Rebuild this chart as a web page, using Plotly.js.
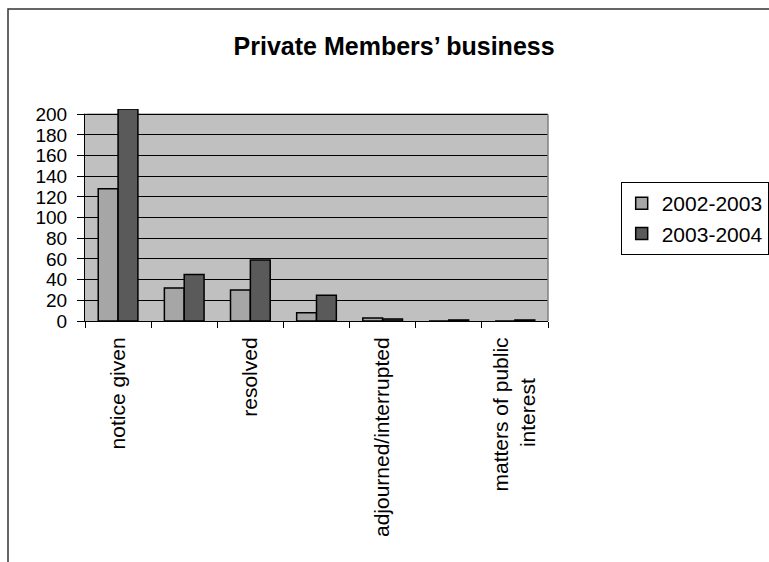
<!DOCTYPE html>
<html>
<head>
<meta charset="utf-8">
<script src="https://cdn.plot.ly/plotly-3.0.1.min.js"></script>
<style>html,body{margin:0;padding:0;background:#fff;}#chart{width:769px;height:562px;}</style>
</head>
<body>
<div id="chart"></div>
<script>
// Category slots (only every other label is shown, as in the reference)
const categoryPositions = [1, 2, 3, 4, 5, 6, 7];
const labelPositions = [1, 3, 5, 7];
const labelTexts = ["notice given", "resolved", "adjourned/interrupted", "matters of public<br>interest"];
const seriesNames = ["2002-2003", "2003-2004"];
const values2002 = [128, 32, 30, 8, 3, 0, 0];
const values2003 = [205, 45, 59, 25, 2, 1, 1];
const yTickValues = [0, 20, 40, 60, 80, 100, 120, 140, 160, 180, 200];
const boundaryTicks = [0.5, 1.5, 2.5, 3.5, 4.5, 5.5, 6.5, 7.5];

const font = "Liberation Sans, Arial, sans-serif";
const xLabelSize = 21;

// centre multi-line rotated labels by padding shorter lines with no-break spaces
function centreLines(label) {
  const lines = label.split("<br>");
  if (lines.length < 2) return label;
  const ctx = document.createElement("canvas").getContext("2d");
  ctx.font = xLabelSize + "px " + font;
  const widths = lines.map(l => ctx.measureText(l).width);
  const maxW = Math.max(...widths);
  const sp = ctx.measureText("\u00A0").width || xLabelSize * 0.278;
  return lines.map((l, i) => l + "\u00A0".repeat(Math.round((maxW - widths[i]) / 2 / sp))).join("<br>");
}
const tickTexts = labelTexts.map(centreLines);

const traces = [
  {
    type: "bar", x: categoryPositions, y: values2002, name: seriesNames[0],
    marker: {color: "#A6A6A6", line: {color: "#000", width: 1.5}},
    cliponaxis: false, legendgroup: "a", hoverinfo: "none"
  },
  {
    type: "bar", x: categoryPositions, y: values2003, name: seriesNames[1],
    marker: {color: "#5A5A5A", line: {color: "#000", width: 1.5}},
    cliponaxis: false, legendgroup: "b", hoverinfo: "none"
  }
];

const layout = {
  width: 769, height: 562,
  margin: {l: 85, r: 221, t: 109, b: 241, autoexpand: false},
  paper_bgcolor: "#fff",
  plot_bgcolor: "#C0C0C0",
  font: {family: font, size: 19, color: "#000"},
  title: {
    text: "<b>Private Members’ business</b>",
    font: {family: font, size: 25, color: "#000"},
    x: 0.5125, xanchor: "center", xref: "container",
    y: 0.918, yanchor: "middle", yref: "container"
  },
  barmode: "group", bargap: 0.4, bargroupgap: 0,
  showlegend: true,
  legend: {
    x: 1.157, xanchor: "left", y: 0.655, yanchor: "top",
    bordercolor: "#000", borderwidth: 1, bgcolor: "#fff",
    font: {family: font, size: 21, color: "#000"},
    traceorder: "grouped", tracegroupgap: 0, itemwidth: 30
  },
  xaxis: {
    range: [0.5, 7.5], tickmode: "array", tickvals: labelPositions, ticktext: tickTexts,
    tickangle: -90, ticks: "", showgrid: false, zeroline: false,
    showline: true, linecolor: "#000", linewidth: 1,
    ticklabelstandoff: 7,
    tickfont: {family: font, size: xLabelSize, color: "#000"},
    minor: {tickmode: "array", tickvals: boundaryTicks, ticks: "outside", ticklen: 6, tickcolor: "#000", tickwidth: 1, showgrid: false}
  },
  yaxis: {
    range: [0, 205], tickmode: "array", tickvals: yTickValues, ticks: "outside", ticklen: 7, tickcolor: "#000",
    showgrid: true, gridcolor: "#000", gridwidth: 1, zeroline: false,
    showline: true, linecolor: "#000", linewidth: 1,
    ticklabelstandoff: 6,
    tickfont: {family: font, size: 19, color: "#000"}
  },
  shapes: [
    // blank strip above the 200 line (plot area ends at 200 in the reference)
    {type: "rect", xref: "paper", yref: "y", x0: 0, x1: 1.01, y0: 200, y1: 206, line: {width: 0}, fillcolor: "#fff", layer: "between"},
    {type: "line", xref: "paper", yref: "y", x0: 0, x1: 0, y0: 200.5, y1: 206, line: {color: "#fff", width: 3}, layer: "above"},
    // plot area border (top, right)
    {type: "line", xref: "paper", yref: "y", x0: 0, x1: 1, y0: 200, y1: 200, line: {color: "#808080", width: 1.5}, layer: "between"},
    {type: "line", xref: "paper", yref: "y", x0: 1, x1: 1, y0: 0, y1: 200, line: {color: "#808080", width: 1.5}, layer: "above"},
    // outer chart frame
    {type: "rect", xref: "paper", yref: "paper", x0: -0.1663, x1: 3, y0: -3, y1: 1.4717, line: {color: "#333", width: 1.5}, fillcolor: "rgba(0,0,0,0)", layer: "above"}
  ]
};

Plotly.newPlot("chart", traces, layout, {displayModeBar: false, staticPlot: true});
</script>
</body>
</html>
